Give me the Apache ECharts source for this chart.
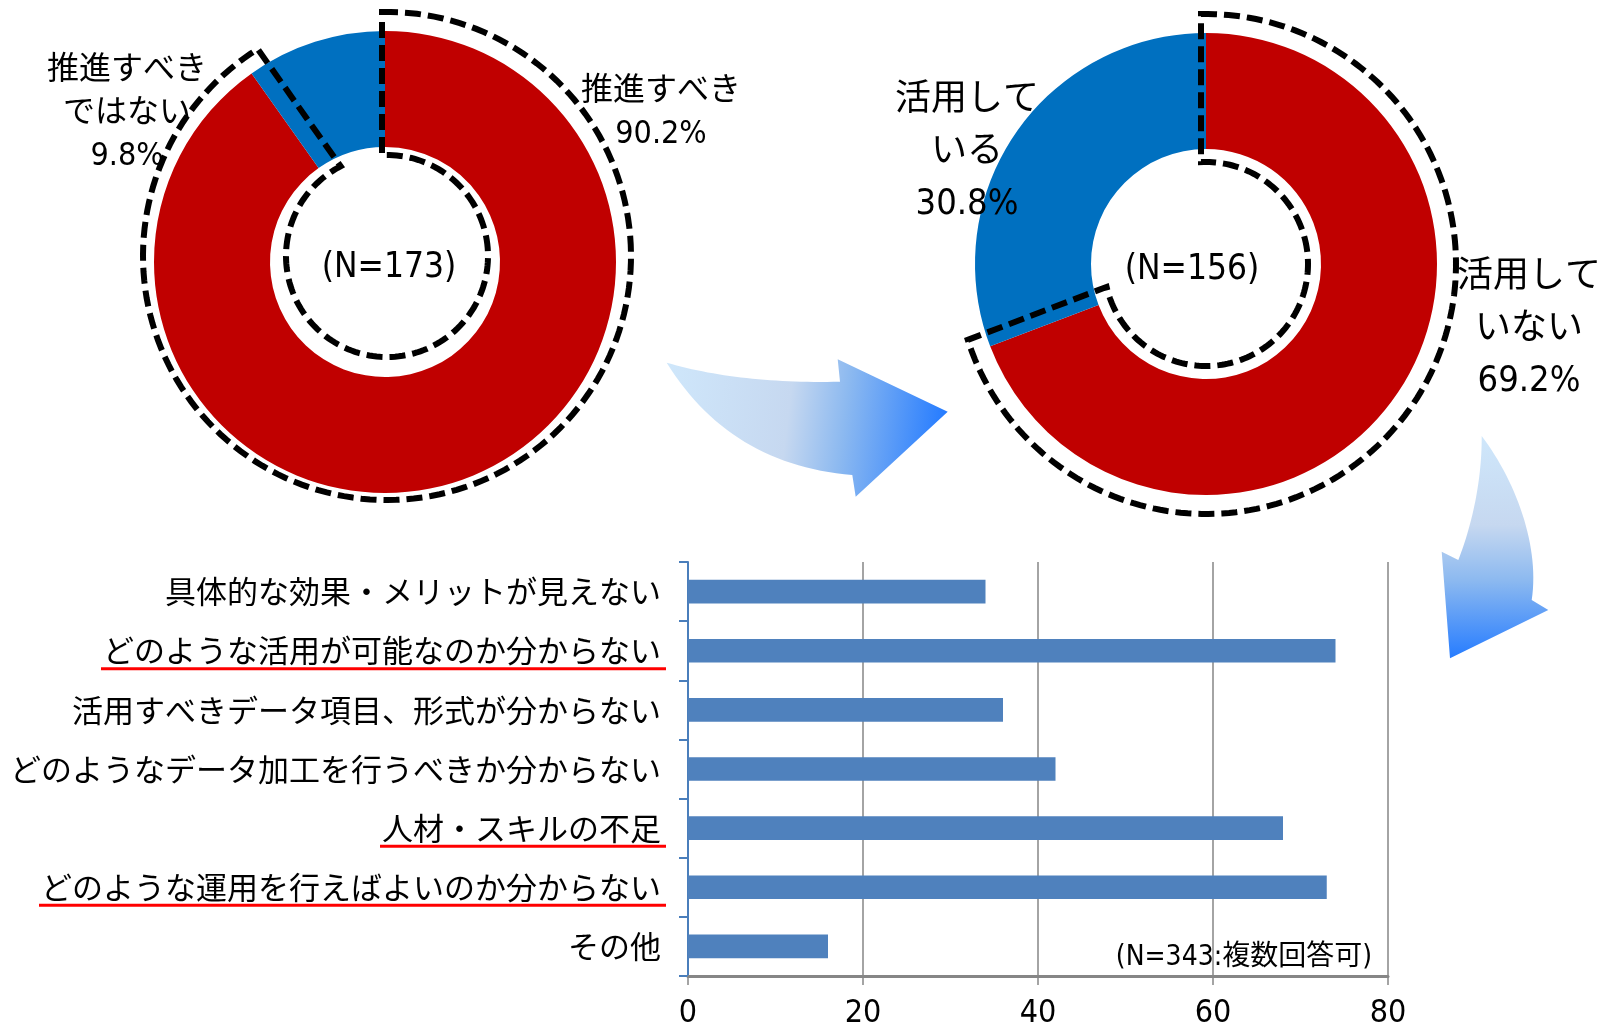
<!DOCTYPE html>
<html><head><meta charset="utf-8">
<script src="https://cdn.jsdelivr.net/npm/echarts@6/dist/echarts.min.js"></script>
<style>html,body{margin:0;padding:0;background:#fff}#main{width:1606px;height:1027px}</style>
</head><body><div id="main"></div>
<script>
// ---- data ----
const pie1Names = ['推進すべき', '推進すべき\nではない'];
const pie1Values = [90.2, 9.8];
const pie2Names = ['活用して\nいない', '活用して\nいる'];
const pie2Values = [69.2, 30.8];
const sampleSizes = [173, 156, 343];
const sampleNote = '複数回答可';
const barCategories = [
  '具体的な効果・メリットが見えない',
  'どのような活用が可能なのか分からない',
  '活用すべきデータ項目、形式が分からない',
  'どのようなデータ加工を行うべきか分からない',
  '人材・スキルの不足',
  'どのような運用を行えばよいのか分からない',
  'その他'
];
const barValues = [34, 74, 36, 42, 68, 73, 16];
const underlined = [false, true, false, false, true, true, false];
const xTicks = [0, 20, 40, 60, 80];

// ---- styles ----
const JP = '"Noto Sans CJK JP", sans-serif';
const NUM = '"DejaVu Sans Condensed", "Liberation Sans Narrow", "Noto Sans CJK JP", sans-serif';
const RED = '#C00000', BLUE = '#0070C0';

const pieDefs = [
  {names: pie1Names, values: pie1Values, center: [385, 262], labelPos: [[661, 113], [127, 114]], fontSize: 32, lineHeight: 43,
   outline: {dx: 2, dy: -6, R: 244, r: 101}},
  {names: pie2Names, values: pie2Values, center: [1206, 264], labelPos: [[1529, 330], [967, 153]], fontSize: 36, lineHeight: 52,
   outline: {dx: 0, dy: 0, R: 250, r: 102}}
];

function outlinePoints(cx, cy, values, R, r, d0, d1) {
  const total = values.reduce((a, b) => a + b, 0);
  const sweep = values[0] / total * 2 * Math.PI;
  const p0 = -Math.PI / 2, p1 = p0 + sweep;
  const aSo = p0 - Math.asin(d0 / R), aEo = p1 + Math.asin(d1 / R);
  const aSi = p0 - Math.asin(d0 / r), aEi = p1 + Math.asin(d1 / r);
  const pts = [];
  const N = 160;
  for (let k = 0; k <= N; k++) { const a = aSo + (aEo - aSo) * k / N; pts.push([cx + R * Math.cos(a), cy + R * Math.sin(a)]); }
  for (let k = 0; k <= N; k++) { const a = aEi + (aSi - aEi) * k / N; pts.push([cx + r * Math.cos(a), cy + r * Math.sin(a)]); }
  return pts;
}

function quad(p0, c, p2, n) {
  const out = [];
  for (let i = 0; i <= n; i++) { const t = i / n, u = 1 - t;
    out.push([u*u*p0[0] + 2*u*t*c[0] + t*t*p2[0], u*u*p0[1] + 2*u*t*c[1] + t*t*p2[1]]); }
  return out;
}
function cubic(p0, c1, c2, p3, n) {
  const out = [];
  for (let i = 0; i <= n; i++) { const t = i / n, u = 1 - t;
    out.push([u*u*u*p0[0] + 3*u*u*t*c1[0] + 3*u*t*t*c2[0] + t*t*t*p3[0],
              u*u*u*p0[1] + 3*u*u*t*c1[1] + 3*u*t*t*c2[1] + t*t*t*p3[1]]); }
  return out;
}

const arrow1 = [].concat(
  quad([666.7, 362.7], [740, 384], [840, 381.7], 30),
  [[837.7, 359.3], [947.7, 411.7], [855.7, 496.7]],
  quad([852.3, 475], [730, 465], [666.7, 362.7], 30)
);
const arrow2 = [].concat(
  cubic([1481.7, 436], [1515, 480], [1540, 545], [1531.7, 600], 30),
  [[1548.3, 610], [1450, 658.3], [1441.7, 551.7]],
  cubic([1458.3, 560], [1472, 525], [1482, 480], [1481.7, 436], 30)
);

const series = [];
pieDefs.forEach((d) => {
  series.push({
    type: 'pie', center: d.center, radius: [115, 231], startAngle: 90, clockwise: true,
    avoidLabelOverlap: false, silent: true, animation: false, emphasis: {disabled: true},
    data: d.names.map((n, i) => ({name: n, value: d.values[i], itemStyle: {color: i === 0 ? RED : BLUE}})),
    label: {
      show: true, position: 'outside', color: '#000', fontFamily: NUM,
      fontSize: d.fontSize, lineHeight: d.lineHeight, align: 'center',
      formatter: p => p.name + '\n' + p.value.toFixed(1) + '%'
    },
    labelLine: {show: false},
    labelLayout: p => ({x: d.labelPos[p.dataIndex][0], y: d.labelPos[p.dataIndex][1], align: 'center', verticalAlign: 'middle'}),
    z: 2
  });
  const o = d.outline;
  series.push({
    type: 'custom', coordinateSystem: 'none', silent: true, animation: false, z: 3,
    data: [[0]],
    renderItem: () => ({
      type: 'polygon',
      shape: {points: outlinePoints(d.center[0] + o.dx, d.center[1] + o.dy, d.values, o.R, o.r, 5, 14)},
      style: {fill: 'none', stroke: '#000', lineWidth: 6, lineDash: [16, 7]}
    })
  });
});

series.push({
  type: 'bar', data: barValues, barCategoryGap: '60%', silent: true, animation: false,
  itemStyle: {color: '#4F81BD'}
});

const option = {
  animation: false,
  grid: {left: 688, right: 218, top: 562, bottom: 51, containLabel: false, outerBoundsMode: 'none'},
  xAxis: {
    type: 'value', min: xTicks[0], max: xTicks[xTicks.length - 1], interval: xTicks[1] - xTicks[0],
    axisLine: {show: true, lineStyle: {color: '#868686', width: 3}},
    axisTick: {show: true, length: 9, lineStyle: {color: '#868686', width: 1.5}},
    splitLine: {show: true, lineStyle: {color: '#868686', width: 1.5}},
    axisLabel: {fontFamily: NUM, fontSize: 32, color: '#000', margin: 22}
  },
  yAxis: {
    type: 'category', data: barCategories, inverse: true,
    axisLine: {show: true, lineStyle: {color: '#4A7EBB', width: 2}},
    axisTick: {show: true, length: 9, lineStyle: {color: '#4A7EBB', width: 2}},
    axisLabel: {fontFamily: JP, fontSize: 31, color: '#000', margin: 27}
  },
  series: series,
  graphic: {elements: [
    {type: 'polygon', id: 'arrow1', z: 1, silent: true, shape: {points: arrow1},
     style: {fill: new echarts.graphic.LinearGradient(0, 0, 1, 0.25, [
       {offset: 0, color: '#cfe7fb'}, {offset: 0.45, color: '#c6d8f0'}, {offset: 0.65, color: '#8cb9f0'}, {offset: 1, color: '#267cff'}])}},
    {type: 'polygon', id: 'arrow2', z: 1, silent: true, shape: {points: arrow2},
     style: {fill: new echarts.graphic.LinearGradient(0, 0, 0, 1, [
       {offset: 0, color: '#cfe7fb'}, {offset: 0.4, color: '#c6d8f0'}, {offset: 0.65, color: '#8cb9f0'}, {offset: 1, color: '#267cff'}])}},
    {type: 'text', id: 'n1', z: 10, silent: true, x: 389, y: 268,
     style: {text: '(N=' + sampleSizes[0] + ')', font: '35px ' + NUM, fill: '#000', textAlign: 'center', textVerticalAlign: 'middle'}},
    {type: 'text', id: 'n2', z: 10, silent: true, x: 1192, y: 270,
     style: {text: '(N=' + sampleSizes[1] + ')', font: '35px ' + NUM, fill: '#000', textAlign: 'center', textVerticalAlign: 'middle'}},
    {type: 'text', id: 'n3', z: 10, silent: true, x: 1372, y: 958,
     style: {text: '(N=' + sampleSizes[2] + ':' + sampleNote + ')', font: '28px ' + NUM, fill: '#000', textAlign: 'right', textVerticalAlign: 'middle'}}
  ]}
};

const chart = echarts.init(document.getElementById('main'), null, {renderer: 'canvas'});
chart.setOption(option);

// red underlines beneath selected category labels, positioned from the axis scale
const ctx = document.createElement('canvas').getContext('2d');
ctx.font = '31px ' + JP;
const lines = [];
barCategories.forEach((c, i) => {
  if (!underlined[i]) return;
  const pt = chart.convertToPixel({gridIndex: 0}, [0, c]);
  const w = ctx.measureText(c).width;
  const right = pt[0] - 27 + 5;
  const left = pt[0] - 27 - w - 2;
  const y = pt[1] + 18;
  lines.push({type: 'line', id: 'ul' + i, z: 10, silent: true,
    shape: {x1: left, y1: y, x2: right, y2: y}, style: {stroke: '#FF0000', lineWidth: 3}});
});
chart.setOption({graphic: {elements: lines}});
</script>
</body></html>
